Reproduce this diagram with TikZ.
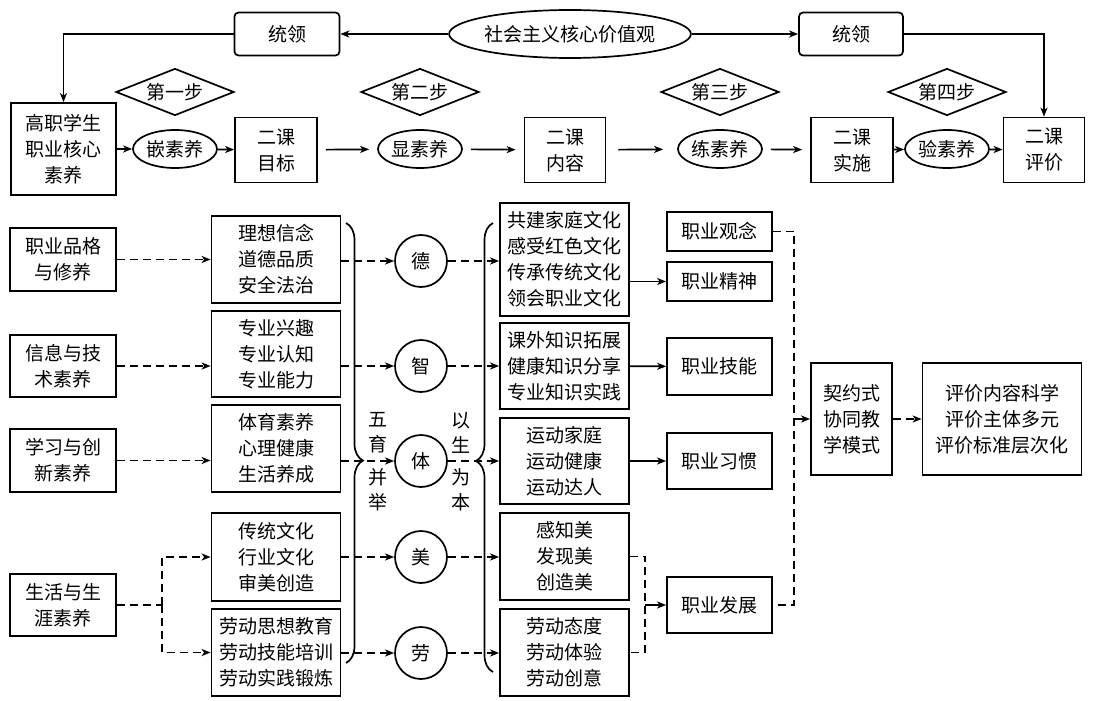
\documentclass[tikz,border=0pt]{standalone}
\usepackage{fontspec}
\setmainfont{Noto Sans CJK SC}
\usepackage{tikz}
\usetikzlibrary{arrows,arrows.meta,shapes,positioning,decorations.pathreplacing}
\newcommand{\cnfont}{\fontsize{19}{26}\selectfont}
\tikzstyle{box} = [rectangle, draw, line width=1.7pt, align=center, inner sep=1pt, font=\cnfont]
\tikzstyle{roundbox} = [box, rounded corners=4pt]
\tikzstyle{oval} = [ellipse, draw, line width=1.7pt, inner sep=0pt, minimum width=84pt, minimum height=38pt, font=\cnfont]
\tikzstyle{stepmark} = [diamond, draw, line width=1.7pt, shape aspect=2.5, inner sep=1pt, minimum width=118pt, minimum height=47pt, font=\cnfont]
\tikzstyle{yu} = [circle, draw, line width=1.7pt, minimum size=52pt, inner sep=0pt, font=\cnfont]
\tikzstyle{vlabel} = [align=center, inner sep=0pt, font=\fontsize{19}{25}\selectfont]
\tikzstyle{arrow} = [line width=1.7pt,->,>={Stealth[length=9pt,width=7pt,inset=2.5pt]}]
\tikzstyle{dasharrow} = [arrow, dash pattern=on 8pt off 5pt]
\tikzstyle{dashline} = [line width=1.7pt, dash pattern=on 8pt off 5pt]
\tikzstyle{gaparrow} = [arrow, shorten <=8pt, shorten >=8pt]
\tikzstyle{bigbrace} = [line width=1.7pt, decorate]

\begin{document}
\begin{tikzpicture}[x=1pt, y=-1pt]
\useasboundingbox (0,0) rectangle (1093,701);

% Top: core values
\node[ellipse, draw, line width=1.7pt, inner sep=0pt, minimum width=241pt, minimum height=48pt, font=\cnfont] (core) at (570,34) {社会主义核心价值观};
\node[roundbox, minimum width=105pt, minimum height=43pt] (lead1) at (287,34) {统领};
\node[roundbox, minimum width=104pt, minimum height=43pt] (lead2) at (851,34) {统领};

% Steps
\node[stepmark] (step1) at (175,92) {第一步};
\node[stepmark] (step2) at (420,92) {第二步};
\node[stepmark] (step3) at (720,92) {第三步};
\node[stepmark] (step4) at (947,92) {第四步};

% Course chain
\node[box, minimum width=105pt, minimum height=92pt] (core2) at (63.5,149) {高职学生\\职业核心\\素养};
\node[oval] (qian) at (175,149) {嵌素养};
\node[box, minimum width=82pt, minimum height=65pt] (mubiao) at (276,150) {二课\\目标};
\node[oval] (xian) at (420,149) {显素养};
\node[box, minimum width=81pt, minimum height=65pt] (neirong) at (565,150) {二课\\内容};
\node[oval] (lian) at (720,149) {练素养};
\node[box, minimum width=82pt, minimum height=65pt] (shishi) at (852,150) {二课\\实施};
\node[oval] (yan) at (947,149) {验素养};
\node[box, minimum width=81pt, minimum height=65pt] (pingjia) at (1044,150) {二课\\评价};

\draw[arrow] (core) -- (lead1);
\draw[arrow] (core) -- (lead2);
\draw[arrow] (lead1.west) -| (core2.north);
\draw[arrow] (lead2.east) -| (pingjia.north);
\draw[arrow] (core2) -- (qian);
\draw[arrow] (qian) -- (mubiao);
\draw[gaparrow] (mubiao) -- (xian);
\draw[gaparrow] (xian) -- (neirong);
\draw[gaparrow, shorten <=12pt, shorten >=14pt] (neirong) -- (lian);
\draw[gaparrow] (lian) -- (shishi);
\draw[arrow] (shishi) -- (yan);
\draw[arrow] (yan) -- (pingjia);

% Competences
\node[box, minimum width=106pt, minimum height=63pt] (pinge) at (63,259.5) {职业品格\\与修养};
\node[box, minimum width=106pt, minimum height=62pt] (xinxi) at (63,366) {信息与技\\术素养};
\node[box, minimum width=106pt, minimum height=63pt] (xuexi) at (63,460.5) {学习与创\\新素养};
\node[box, minimum width=106pt, minimum height=62pt] (shenghuo) at (63,605) {生活与生\\涯素养};
\coordinate (split) at (162,605);

% Contents
\node[box, minimum width=129pt, minimum height=87pt] (c1) at (276,259.5) {理想信念\\道德品质\\安全法治};
\node[box, minimum width=129pt, minimum height=86pt] (c2) at (276,354) {专业兴趣\\专业认知\\专业能力};
\node[box, minimum width=129pt, minimum height=87pt] (c3) at (276,448.5) {体育素养\\心理健康\\生活养成};
\node[box, minimum width=129pt, minimum height=88pt] (c4) at (276,557) {传统文化\\行业文化\\审美创造};
\node[box, minimum width=129pt, minimum height=87pt] (c5) at (276,652.5) {劳动思想教育\\劳动技能培训\\劳动实践锻炼};

% Five educations
\node[yu] (de) at (421,261) {德};
\node[yu] (zhi) at (421,366) {智};
\node[yu] (ti) at (421,461) {体};
\node[yu] (mei) at (421,557) {美};
\node[yu] (lao) at (421,653) {劳};
\draw[bigbrace, decoration={brace, amplitude=17pt, aspect=0.54}] (346,223) -- (346,663);
\draw[bigbrace, decoration={brace, amplitude=17pt, aspect=0.47}] (493,672) -- (493,223);
\node[vlabel] (wuyu) at (378,432.5) {五\\育};
\node[vlabel] (bingju) at (378,490) {并\\举};
\node[vlabel] (yisheng) at (461,432.5) {以\\生};
\node[vlabel] (weiben) at (461,490) {为\\本};

% Activities
\node[box, minimum width=129pt, minimum height=113pt] (d1) at (564.5,259.5) {共建家庭文化\\感受红色文化\\传承传统文化\\领会职业文化};
\node[box, minimum width=129pt, minimum height=86pt] (d2) at (564.5,366) {课外知识拓展\\健康知识分享\\专业知识实践};
\node[box, minimum width=129pt, minimum height=86pt] (d3) at (564.5,461) {运动家庭\\运动健康\\运动达人};
\node[box, minimum width=129pt, minimum height=87pt] (d4) at (564.5,556.5) {感知美\\发现美\\创造美};
\node[box, minimum width=129pt, minimum height=87pt] (d5) at (564.5,652.5) {劳动态度\\劳动体验\\劳动创意};

% Career outcomes
\node[box, minimum width=105pt, minimum height=39pt] (guannian) at (719.5,231.5) {职业观念};
\node[box, minimum width=105pt, minimum height=39pt] (jingshen) at (719.5,281.5) {职业精神};
\node[box, minimum width=105pt, minimum height=57pt] (jineng) at (719.5,366.5) {职业技能};
\node[box, minimum width=105pt, minimum height=56pt] (xiguan) at (719.5,461) {职业习惯};
\node[box, minimum width=105pt, minimum height=56pt] (fazhan) at (719.5,605) {职业发展};
\coordinate (mj) at (645,605);
\coordinate (vr) at (794,419);

% Model and evaluation
\node[box, minimum width=81pt, minimum height=112pt] (qiyue) at (851.5,419) {契约式\\协同教\\学模式};
\node[box, minimum width=159pt, minimum height=112pt] (pj) at (1002,419) {评价内容科学\\评价主体多元\\评价标准层次化};

% Dashed flows
\draw[dasharrow] (pinge) -- (c1);
\draw[dasharrow] (xinxi.east) -- (xinxi.east -| c2.west);
\draw[dasharrow] (xuexi.east) -- (xuexi.east -| c3.west);
\draw[dashline] (shenghuo.east) -- (split);
\draw[dasharrow] (split) |- (c4.west);
\draw[dasharrow] (split) |- (c5.west);
\draw[dasharrow] (c1.east |- de) -- (de);
\draw[dasharrow] (c2.east |- zhi) -- (zhi);
\draw[dasharrow] (c3.east |- ti) -- (ti);
\draw[dasharrow] (c4.east |- mei) -- (mei);
\draw[dasharrow] (c5.east |- lao) -- (lao);
\draw[dasharrow] (de) -- (de -| d1.west);
\draw[dasharrow] (zhi) -- (zhi -| d2.west);
\draw[dasharrow] (ti) -- (ti -| d3.west);
\draw[dasharrow] (mei) -- (mei -| d4.west);
\draw[dasharrow] (lao) -- (lao -| d5.west);

% Solid flows
\draw[arrow] (d1.east |- jingshen) -- (jingshen);
\draw[arrow] (d2) -- (jineng);
\draw[arrow] (d3) -- (xiguan);
\draw[dashline] (d4.east) -| (mj) |- (d5.east);
\draw[arrow] (mj) -- (fazhan);
\draw[dashline] (guannian.east) -| (vr) |- (fazhan.east);
\draw[arrow] (vr) -- (qiyue);
\draw[dasharrow] (qiyue) -- (pj);
\end{tikzpicture}
\end{document}
